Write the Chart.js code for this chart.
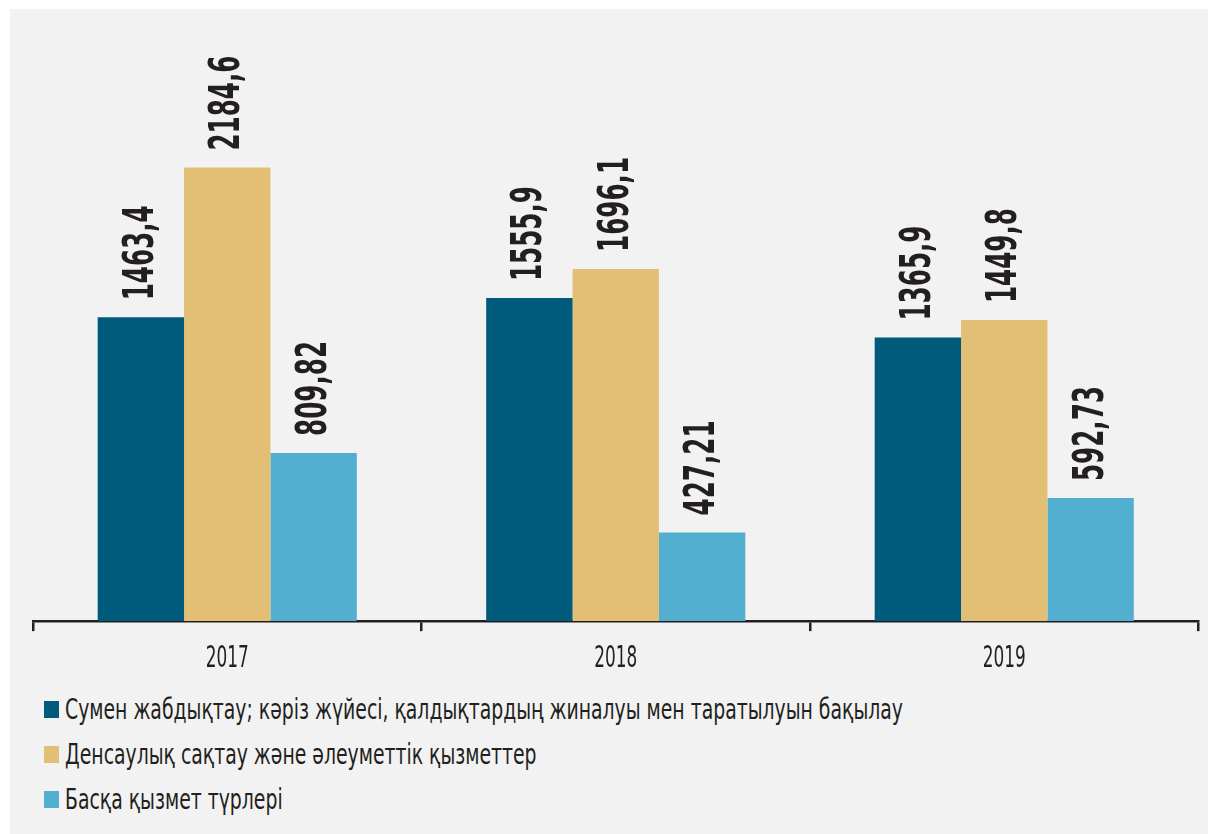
<!DOCTYPE html>
<html>
<head>
<meta charset="utf-8">
<script src="https://cdn.jsdelivr.net/npm/chart.js@4.4.1/dist/chart.umd.min.js"></script>
<style>
  html, body { margin: 0; padding: 0; background: #ffffff; width: 1208px; height: 834px; overflow: hidden; }
  #panel { position: absolute; left: 10px; top: 9px; right: 0; bottom: 0; background: #f2f2f2; }
  #wrap { position: absolute; left: 0; top: 0; width: 1208px; height: 680px; }
  #legend { position: absolute; left: 44px; top: 687px; font-family: "Liberation Sans Narrow", "DejaVu Sans Condensed", "Roboto Condensed", sans-serif; font-size: 28px; color: #231f20; }
  .item { height: 45px; display: flex; align-items: center; white-space: nowrap; }
  .sw { width: 15px; height: 17px; margin-right: 6px; flex: none; }
  .tx { display: inline-block; transform-origin: 0 50%; }
</style>
</head>
<body>
<div id="panel"></div>
<div id="wrap"><canvas id="c" width="1208" height="680"></canvas></div>
<div id="legend"></div>
<script>
const categories = ["2017", "2018", "2019"];
const seriesNames = [
  "Сумен жабдықтау; кәріз жүйесі, қалдықтардың жиналуы мен таратылуын бақылау",
  "Денсаулық сақтау және әлеуметтік қызметтер",
  "Басқа қызмет түрлері"
];
const water = [1463.4, 1555.9, 1365.9];
const health = [2184.6, 1696.1, 1449.8];
const other = [809.82, 427.21, 592.73];
const colors = ["#005a7c", "#e2bf75", "#52afd0"];

const FONT = '"Liberation Sans Narrow", "DejaVu Sans Condensed", "Roboto Condensed", sans-serif';

// draws the value labels (rotated) and condensed category labels
const labelPlugin = {
  id: 'valueLabels',
  afterDatasetsDraw(chart) {
    const ctx = chart.ctx;
    ctx.save();
    ctx.fillStyle = '#231f20';
    ctx.font = 'bold 42px ' + FONT;
    ctx.textAlign = 'left';
    ctx.textBaseline = 'middle';
    const refW = ctx.measureText('1463,4').width;
    const k = 95 / refW;
    chart.data.datasets.forEach((ds, i) => {
      const meta = chart.getDatasetMeta(i);
      meta.data.forEach((el, j) => {
        const txt = String(ds.data[j]).replace('.', ',');
        ctx.save();
        ctx.translate(el.x + 1, el.y - 17);
        ctx.rotate(-Math.PI / 2);
        ctx.scale(k, 1);
        ctx.fillText(txt, 0, 0);
        ctx.restore();
      });
    });
    const xs = chart.scales.x;
    ctx.font = '31px ' + FONT;
    ctx.textAlign = 'center';
    ctx.textBaseline = 'alphabetic';
    const kw = 43 / ctx.measureText('2017').width;
    categories.forEach((c, i) => {
      ctx.save();
      ctx.translate(xs.getPixelForTick(i), chart.chartArea.bottom + 45.5);
      ctx.scale(kw, 1);
      ctx.fillText(c, 0, 0);
      ctx.restore();
    });
    ctx.restore();
  }
};

new Chart(document.getElementById('c'), {
  type: 'bar',
  data: {
    labels: categories,
    datasets: [
      { label: seriesNames[0], data: water, backgroundColor: colors[0] },
      { label: seriesNames[1], data: health, backgroundColor: colors[1] },
      { label: seriesNames[2], data: other, backgroundColor: colors[2] }
    ]
  },
  options: {
    responsive: false,
    animation: false,
    devicePixelRatio: 1,
    layout: { padding: { left: 33, right: 9.5, top: 19, bottom: 2.5 } },
    plugins: { legend: { display: false }, tooltip: { enabled: false } },
    datasets: { bar: { categoryPercentage: 0.667, barPercentage: 1.0, borderWidth: 0 } },
    scales: {
      x: {
        grid: { display: true, drawOnChartArea: false, drawTicks: true, tickLength: 10, color: '#231f20', lineWidth: 2.5 },
        border: { display: true, color: '#231f20', width: 2.5 },
        ticks: { color: 'rgba(0,0,0,0)', font: { family: FONT, size: 27 }, padding: 7 }
      },
      y: {
        display: false,
        min: 0,
        max: 2900
      }
    }
  },
  plugins: [labelPlugin]
});

const leg = document.getElementById('legend');
const spans = [];
seriesNames.forEach((name, i) => {
  const d = document.createElement('div');
  d.className = 'item';
  const s = document.createElement('span');
  s.className = 'sw';
  s.style.background = colors[i];
  const t = document.createElement('span');
  t.className = 'tx';
  t.textContent = name;
  d.appendChild(s); d.appendChild(t);
  leg.appendChild(d);
  spans.push(t);
});
const ks = 838 / spans[0].getBoundingClientRect().width;
spans.forEach(t => { t.style.transform = 'scaleX(' + ks + ')'; });
</script>
</body>
</html>
